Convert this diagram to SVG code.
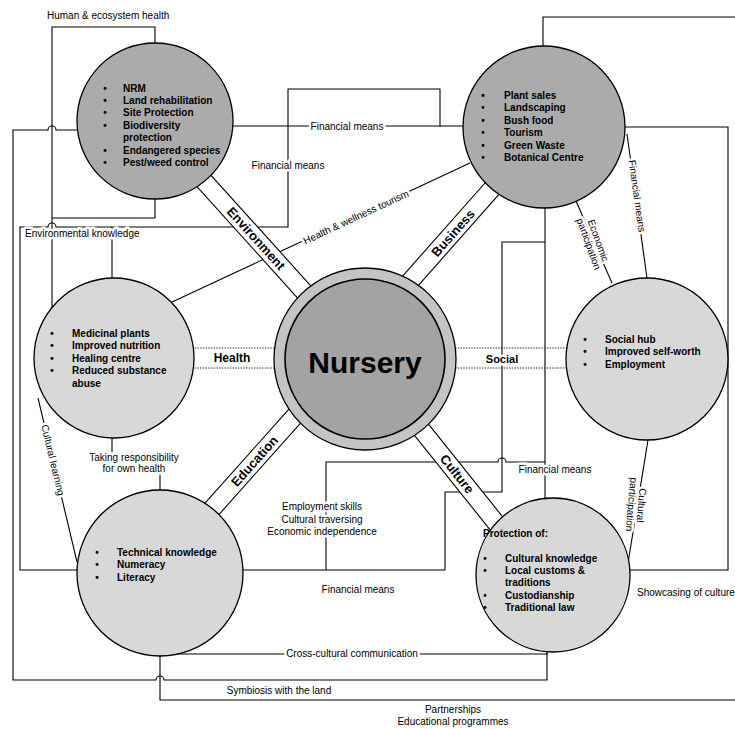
<svg xmlns="http://www.w3.org/2000/svg" width="735" height="729" viewBox="0 0 735 729">
<style>
.ln{fill:none;stroke:#000;stroke-width:1.1}
.dot{fill:none;stroke:#333;stroke-width:1;stroke-dasharray:1.5 1.2}
.rbf{fill:#fff;stroke:none}
.rbe{fill:none;stroke:#000;stroke-width:1.1}
.lbl{font-family:"Liberation Sans",Arial,sans-serif;font-size:10px;fill:#000;paint-order:stroke;stroke:#fff;stroke-width:5px;stroke-linejoin:round}
.it{font-family:"Liberation Sans",Arial,sans-serif;font-size:10px;font-weight:bold;fill:#000}
.rb{font-family:"Liberation Sans",Arial,sans-serif;font-size:13px;font-weight:bold;fill:#000;text-anchor:middle}
.band{font-family:"Liberation Sans",Arial,sans-serif;font-weight:bold;fill:#000;text-anchor:middle;paint-order:stroke;stroke:#fff;stroke-width:5px}
.dark{fill:#ababab;stroke:#000;stroke-width:1.3}
.light{fill:#d8d8d8;stroke:#000;stroke-width:1.3}
.mid{text-anchor:middle}
</style>
<rect width="735" height="729" fill="#fff"/>
<g id="connectors">
<path class="ln" d="M155,43 V27 H52 V308"/>
<path class="ln" d="M155,199 V218 H52"/>
<path class="ln" d="M77,130 H56 A4,4 0 0 0 48,130 H13 V680 H156 A4,4 0 0 1 164,680 H547 V652"/>
<path class="ln" d="M440,127 V89 H288 V227 H56 A4,4 0 0 0 48,227 H20 V570 H78"/>
<path class="ln" d="M112,227 V279"/>
<path class="ln" d="M233,126 H463"/>
<path class="ln" d="M172,302 L470,163"/>
<path class="ln" d="M112,438 V452 M160,474 V490"/>
<path class="ln" d="M38,398 L77,562"/>
<path class="ln" d="M160,656 V700 H735"/>
<path class="ln" d="M543,46 V17 H735"/>
<path class="ln" d="M170,654 H548"/>
<path class="ln" d="M625,127 H728 V570 H629"/>
<path class="ln" d="M627,134 L647,278"/>
<path class="ln" d="M576,201 L612,283"/>
<path class="ln" d="M545,208 V498"/>
<path class="ln" d="M243,570 H445 V492 H502 V242 H545"/>
<path class="ln" d="M326,570 V462 H498 A4,4 0 0 1 506,462 H545"/>
<path class="ln" d="M648,440 L628,563"/>
<path class="dot" d="M192,348 H276 M192,368 H276"/>
<path class="dot" d="M455,348 H567 M455,368 H567"/>
</g>
<g id="ribbons">
<polygon class="rbf" points="188.9,150.8 316.2,291.8 302.8,303.8 175.5,162.8"/>
<path class="rbe" d="M188.9,150.8 L316.2,291.8 M175.5,162.8 L302.8,303.8"/>
<polygon class="rbf" points="522.7,167.5 410.0,294.9 396.6,282.9 509.3,155.5"/>
<path class="rbe" d="M522.7,167.5 L410.0,294.9 M509.3,155.5 L396.6,282.9"/>
<polygon class="rbf" points="194.6,541.8 314.4,407.6 301.0,395.6 181.2,529.8"/>
<path class="rbe" d="M194.6,541.8 L314.4,407.6 M181.2,529.8 L301.0,395.6"/>
<polygon class="rbf" points="400.3,388.9 512.7,529.4 498.7,540.6 386.3,400.1"/>
<path class="rbe" d="M400.3,388.9 L512.7,529.4 M386.3,400.1 L498.7,540.6"/>
<text class="rb" transform="translate(256,238.4) rotate(47.9)" y="4.5">Environment</text>
<text class="rb" transform="translate(453,233) rotate(-48.5)" y="4.5">Business</text>
<text class="rb" transform="translate(254.5,461.2) rotate(-48.2)" y="4.5">Education</text>
<text class="rb" transform="translate(457,474) rotate(51.3)" y="4.5">Culture</text>
</g>
<g id="node-environment">
<circle class="dark" cx="155" cy="121" r="78"/>
<text class="it mid" x="105" y="91.5">•</text><text class="it" x="123" y="91.5">NRM</text>
<text class="it mid" x="105" y="103.9">•</text><text class="it" x="123" y="103.9">Land rehabilitation</text>
<text class="it mid" x="105" y="116.3">•</text><text class="it" x="123" y="116.3">Site Protection</text>
<text class="it mid" x="105" y="128.7">•</text><text class="it" x="123" y="128.7">Biodiversity</text>
<text class="it" x="123" y="141.1">protection</text>
<text class="it mid" x="105" y="153.5">•</text><text class="it" x="123" y="153.5">Endangered species</text>
<text class="it mid" x="105" y="165.9">•</text><text class="it" x="123" y="165.9">Pest/weed control</text>
</g>
<g id="node-business">
<circle class="dark" cx="544" cy="127" r="81"/>
<text class="it mid" x="483" y="98.6">•</text><text class="it" x="504" y="98.6">Plant sales</text>
<text class="it mid" x="483" y="111.1">•</text><text class="it" x="504" y="111.1">Landscaping</text>
<text class="it mid" x="483" y="123.6">•</text><text class="it" x="504" y="123.6">Bush food</text>
<text class="it mid" x="483" y="136.1">•</text><text class="it" x="504" y="136.1">Tourism</text>
<text class="it mid" x="483" y="148.6">•</text><text class="it" x="504" y="148.6">Green Waste</text>
<text class="it mid" x="483" y="161.1">•</text><text class="it" x="504" y="161.1">Botanical Centre</text>
</g>
<g id="node-health">
<circle class="light" cx="114" cy="358" r="80"/>
<text class="it mid" x="52" y="336.6">•</text><text class="it" x="72" y="336.6">Medicinal plants</text>
<text class="it mid" x="52" y="349.1">•</text><text class="it" x="72" y="349.1">Improved nutrition</text>
<text class="it mid" x="52" y="361.6">•</text><text class="it" x="72" y="361.6">Healing centre</text>
<text class="it mid" x="52" y="374.1">•</text><text class="it" x="72" y="374.1">Reduced substance</text>
<text class="it" x="72" y="386.6">abuse</text>
</g>
<g id="node-social">
<circle class="light" cx="647" cy="359" r="81"/>
<text class="it mid" x="585" y="342.6">•</text><text class="it" x="605" y="342.6">Social hub</text>
<text class="it mid" x="585" y="355.1">•</text><text class="it" x="605" y="355.1">Improved self-worth</text>
<text class="it mid" x="585" y="367.6">•</text><text class="it" x="605" y="367.6">Employment</text>
</g>
<g id="node-education">
<circle class="light" cx="160" cy="573" r="83"/>
<text class="it mid" x="97" y="555.6">•</text><text class="it" x="117" y="555.6">Technical knowledge</text>
<text class="it mid" x="97" y="568.1">•</text><text class="it" x="117" y="568.1">Numeracy</text>
<text class="it mid" x="97" y="580.6">•</text><text class="it" x="117" y="580.6">Literacy</text>
</g>
<g id="node-culture">
<circle class="light" cx="553" cy="575" r="77"/>
<text class="it" x="483" y="536.6">Protection of:</text>
<text class="it mid" x="485" y="561.6">•</text><text class="it" x="505" y="561.6">Cultural knowledge</text>
<text class="it mid" x="485" y="574">•</text><text class="it" x="505" y="574">Local customs &amp;</text>
<text class="it" x="505" y="586.4">traditions</text>
<text class="it mid" x="485" y="598.8">•</text><text class="it" x="505" y="598.8">Custodianship</text>
<text class="it mid" x="485" y="611.2">•</text><text class="it" x="505" y="611.2">Traditional law</text>
</g>
<g id="node-nursery">
<circle cx="365" cy="359" r="91" fill="#c4c4c4" stroke="#000" stroke-width="1.3"/>
<circle cx="365" cy="359" r="80" fill="#a3a3a3" stroke="#000" stroke-width="1.6"/>
<text x="365" y="373" text-anchor="middle" font-family="'Liberation Sans',Arial,sans-serif" font-size="30" font-weight="bold" fill="#000">Nursery</text>
</g>
<g id="labels">
<text class="band" x="232" y="362" font-size="12">Health</text>
<text class="band" x="502" y="363" font-size="11">Social</text>
<text class="lbl" x="47" y="19">Human &amp; ecosystem health</text>
<text class="lbl" x="25" y="237">Environmental knowledge</text>
<text class="lbl mid" x="347" y="129.5">Financial means</text>
<text class="lbl mid" x="288" y="168.5">Financial means</text>
<text class="lbl mid" transform="translate(356,217) rotate(-25)" y="3.5">Health &amp; wellness tourism</text>
<text class="lbl mid" transform="translate(637,196) rotate(82)" y="3.5">Financial means</text>
<text class="lbl mid" transform="translate(594,242) rotate(70)"><tspan x="0" y="-1">Economic</tspan><tspan x="0" y="9">participation</tspan></text>
<text class="lbl mid" transform="translate(637,505) rotate(95)"><tspan x="0" y="-1">Cultural</tspan><tspan x="0" y="9">participation</tspan></text>
<text class="lbl mid" transform="translate(53,460) rotate(76.6)" y="3.5">Cultural learning</text>
<text class="lbl mid" x="134" y="461">Taking responsibility</text>
<text class="lbl mid" x="134" y="472">for own health</text>
<text class="lbl mid" x="322" y="510">Employment skills</text>
<text class="lbl mid" x="322" y="522.5">Cultural traversing</text>
<text class="lbl mid" x="322" y="535">Economic independence</text>
<text class="lbl mid" x="555" y="473">Financial means</text>
<text class="lbl mid" x="358" y="593">Financial means</text>
<text class="lbl mid" x="352" y="657">Cross-cultural communication</text>
<text class="lbl" x="637" y="596">Showcasing of culture</text>
<text class="lbl mid" x="279" y="694">Symbiosis with the land</text>
<text class="lbl mid" x="453" y="713">Partnerships</text>
<text class="lbl mid" x="453" y="725">Educational programmes</text>
</g>
</svg>
